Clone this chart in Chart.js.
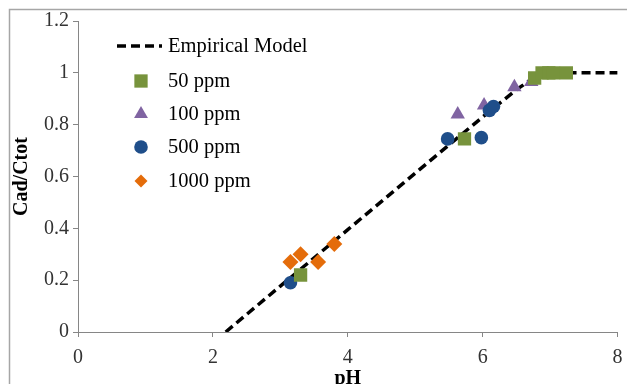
<!DOCTYPE html>
<html>
<head>
<meta charset="utf-8">
<script src="https://cdn.jsdelivr.net/npm/chart.js@4/dist/chart.umd.min.js"></script>
<style>
  html, body { margin: 0; padding: 0; background: #ffffff; }
  canvas { display: block; }
</style>
</head>
<body>
<canvas id="c" width="627" height="384"></canvas>
<script>
// ---- data ----
const modelX = [2.19, 3, 4, 5, 6, 6.5, 6.75, 7, 8];
const modelY = [0, 0.177, 0.395, 0.613, 0.83, 0.935, 0.98, 1.0, 1.0];

const ppm50X = [3.30, 5.73, 6.77, 6.88, 6.98, 7.05, 7.24];
const ppm50Y = [0.22, 0.745, 0.98, 1.0, 1.0, 1.0, 1.0];

const ppm100X = [5.63, 6.02, 6.47, 6.72];
const ppm100Y = [0.84, 0.875, 0.945, 0.965];

const ppm500X = [3.15, 5.48, 5.98, 6.10, 6.16];
const ppm500Y = [0.19, 0.745, 0.75, 0.855, 0.87];

const ppm1000X = [3.15, 3.30, 3.56, 3.80];
const ppm1000Y = [0.27, 0.30, 0.27, 0.34];

const xTickLabels = ['0', '2', '4', '6', '8'];
const yTickLabels = ['0', '0.2', '0.4', '0.6', '0.8', '1', '1.2'];

const seriesLabels = ['Empirical Model', '50 ppm', '100 ppm', '500 ppm', '1000 ppm'];

const toPts = (xs, ys) => xs.map((x, i) => ({ x: x, y: ys[i] }));

const FONT = "'Liberation Serif', 'Times New Roman', serif";
const AXIS_COLOR = '#868686';

const datasets = [
  {
    label: seriesLabels[0], data: toPts(modelX, modelY), showLine: true,
    borderColor: '#000000', borderWidth: 3.5, borderDash: [9, 5],
    pointRadius: 0, fill: false, order: 10, tension: 0
  },
  {
    label: seriesLabels[1], data: toPts(ppm50X, ppm50Y), pointStyle: 'rect',
    pointRadius: 9.4, backgroundColor: '#77933C', borderColor: '#77933C', borderWidth: 0, order: 0,
    legendRadius: 9.4
  },
  {
    label: seriesLabels[2], data: toPts(ppm100X, ppm100Y), pointStyle: 'triangle',
    pointRadius: 8.3, backgroundColor: '#8064A2', borderColor: '#8064A2', borderWidth: 0, order: 2,
    legendRadius: 8
  },
  {
    label: seriesLabels[3], data: toPts(ppm500X, ppm500Y), pointStyle: 'circle',
    pointRadius: 6.8, backgroundColor: '#1F4E8A', borderColor: '#1F4E8A', borderWidth: 0, order: 1,
    legendRadius: 6.8
  },
  {
    label: seriesLabels[4], data: toPts(ppm1000X, ppm1000Y), pointStyle: 'rectRot',
    pointRadius: 8, backgroundColor: '#E46C0A', borderColor: '#E46C0A', borderWidth: 0, order: 3,
    legendRadius: 6.5
  }
];

const frame = {
  id: 'frame',
  beforeDraw(chart) {
    const ctx = chart.ctx;
    ctx.save();
    ctx.fillStyle = '#ffffff';
    ctx.fillRect(0, 0, chart.width, chart.height);
    ctx.strokeStyle = '#a6a6a6';
    ctx.lineWidth = 1.5;
    ctx.strokeRect(9.5, 9.5, 1000, 1000);
    ctx.restore();
  }
};

const innerLegend = {
  id: 'innerLegend',
  afterDraw(chart) {
    const ctx = chart.ctx;
    const rowsY = [46, 81, 114, 147, 181];
    const markerX = 141, textX = 168;
    ctx.save();
    ctx.font = '20.5px ' + FONT;
    ctx.textBaseline = 'middle';
    ctx.textAlign = 'left';
    ctx.fillStyle = '#000000';
    chart.data.datasets.forEach((ds, i) => {
      const y = rowsY[i];
      if (i === 0) {
        ctx.save();
        ctx.strokeStyle = ds.borderColor;
        ctx.lineWidth = ds.borderWidth;
        ctx.setLineDash(ds.borderDash);
        ctx.beginPath();
        ctx.moveTo(117, y);
        ctx.lineTo(162, y);
        ctx.stroke();
        ctx.restore();
      } else {
        ctx.save();
        ctx.fillStyle = ds.backgroundColor;
        ctx.strokeStyle = ds.borderColor;
        ctx.lineWidth = 0;
        Chart.helpers.drawPoint(ctx, { pointStyle: ds.pointStyle, radius: ds.legendRadius, rotation: 0, borderWidth: 0 }, markerX, y);
        ctx.restore();
      }
      ctx.fillText(ds.label, textX, y + 1);
    });
    ctx.restore();
  }
};

new Chart(document.getElementById('c'), {
  type: 'scatter',
  data: { datasets: datasets },
  plugins: [frame, innerLegend],
  options: {
    responsive: false,
    animation: false,
    devicePixelRatio: 1,
    layout: { padding: { top: 21, right: 6, left: 0, bottom: 0 } },
    plugins: { legend: { display: false }, tooltip: { enabled: false } },
    scales: {
      x: {
        type: 'linear', min: 0, max: 8,
        afterFit(scale) { scale.height = 52; scale.paddingLeft = 0; scale.paddingRight = 0; },
        ticks: {
          stepSize: 2, padding: 9, color: '#333333',
          font: { family: FONT, size: 20 },
          callback: (v, i) => xTickLabels[i]
        },
        grid: { drawOnChartArea: false, drawTicks: true, tickLength: 5, color: AXIS_COLOR },
        border: { color: AXIS_COLOR, width: 1 },
        title: {
          display: true, text: 'pH', color: '#000000',
          font: { family: FONT, size: 20, weight: 'bold', lineHeight: 1.2 },
          padding: { top: 0, bottom: -7 }
        }
      },
      y: {
        type: 'linear', min: 0, max: 1.2,
        afterFit(scale) { scale.width = 78; },
        ticks: {
          stepSize: 0.2, padding: 4, color: '#333333',
          font: { family: FONT, size: 20 },
          callback: (v, i) => yTickLabels[i]
        },
        grid: { drawOnChartArea: false, drawTicks: true, tickLength: 5, color: AXIS_COLOR },
        border: { color: AXIS_COLOR, width: 1 },
        title: {
          display: true, text: 'Cad/Ctot', color: '#000000',
          font: { family: FONT, size: 20, weight: 'bold', lineHeight: 1.2 },
          padding: { top: 10, bottom: 0 }
        }
      }
    }
  }
});
</script>
</body>
</html>
